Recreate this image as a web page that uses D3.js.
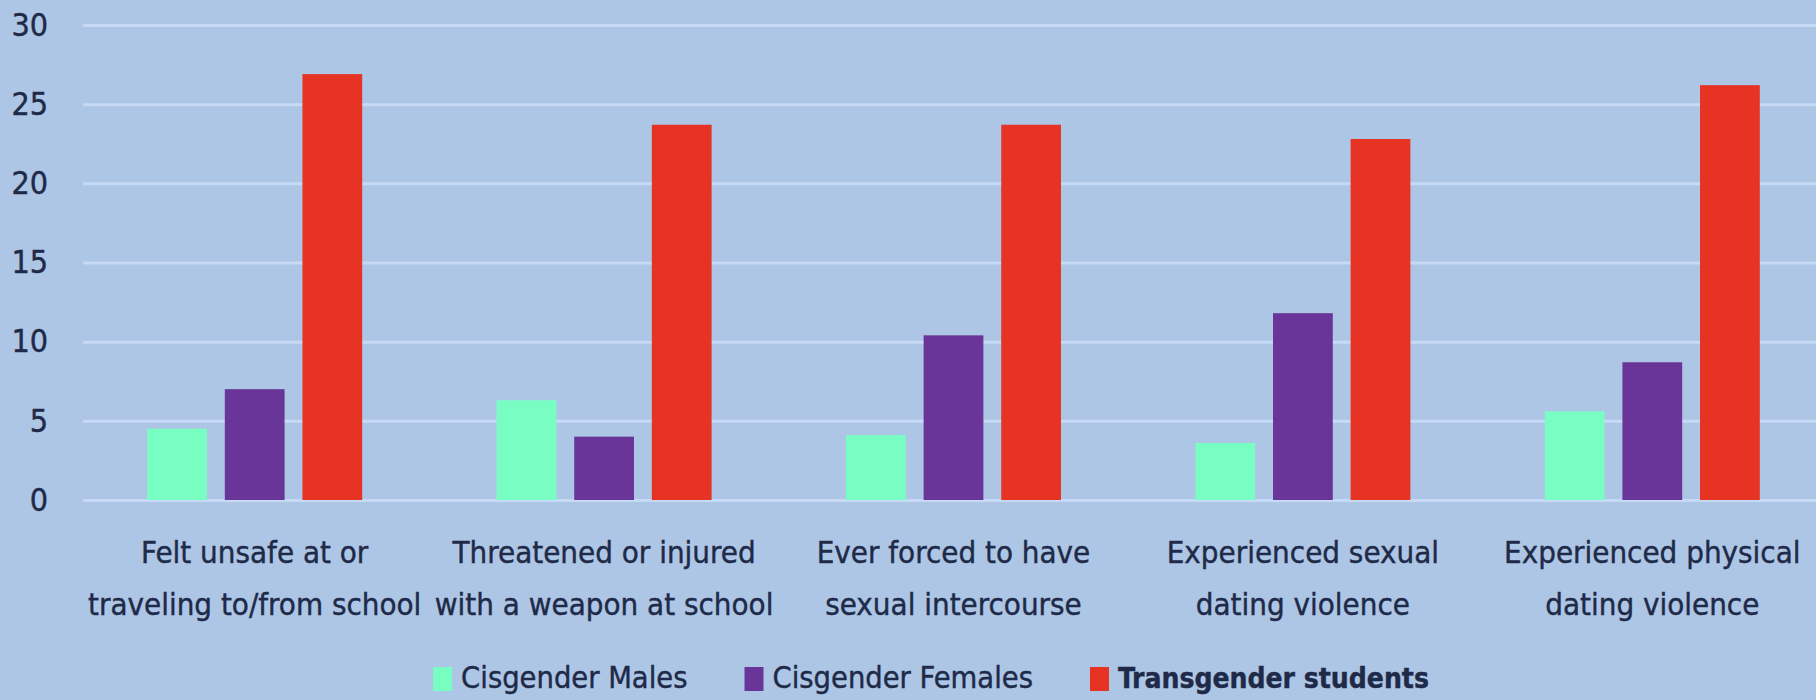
<!DOCTYPE html>
<html>
<head>
<meta charset="utf-8">
<script src="https://cdn.jsdelivr.net/npm/d3@7"></script>
<style>
  html, body { margin: 0; padding: 0; background: #adc6e5; overflow: hidden; }
  svg { display: block; }
  text { font-family: "Liberation Sans Narrow", "DejaVu Sans Condensed", "Liberation Sans", sans-serif; fill: #1e2a48; stroke: #1e2a48; stroke-width: 0.4px; }
</style>
</head>
<body>
<div id="chart"></div>
<script>
// Data
const categories = [
    ["Felt unsafe at or", "traveling to/from school"],
    ["Threatened or injured", "with a weapon at school"],
    ["Ever forced to have", "sexual intercourse"],
    ["Experienced sexual", "dating violence"],
    ["Experienced physical", "dating violence"]
];
const seriesNames = ["Cisgender Males", "Cisgender Females", "Transgender students"];
const cisMales = [4.5, 6.3, 4.1, 3.6, 5.6];
const cisFemales = [7.0, 4.0, 10.4, 11.8, 8.7];
const transStudents = [26.9, 23.7, 23.7, 22.8, 26.2];
const yTicks = [0, 5, 10, 15, 20, 25, 30];
const colors = ["#78fec3", "#6a3598", "#e63323"];

const W = 1816, H = 700;
const svg = d3.select("#chart").append("svg")
    .attr("width", W)
    .attr("height", H);

// Scales
const y = d3.scaleLinear().domain([0, 30]).range([500, 25]);
const x0 = d3.scaleBand()
    .domain(d3.range(categories.length))
    .range([80, 1827])
    .padding(0);
const groupW = 215;
const x1 = d3.scaleBand()
    .domain(d3.range(seriesNames.length))
    .range([(x0.bandwidth() - groupW) / 2, (x0.bandwidth() + groupW) / 2])
    .paddingInner(0.23)
    .paddingOuter(0);

// Gridlines
svg.append("g")
    .attr("transform", "translate(83,0)")
    .call(d3.axisLeft(y).tickValues(yTicks).tickSize(-(W - 83)).tickFormat(""))
    .call(g => g.select(".domain").remove())
    .call(g => g.selectAll("line").attr("stroke", "#c6daf5").attr("stroke-width", 3));

// Y axis labels
svg.append("g")
    .attr("transform", "translate(48,0)")
    .call(d3.axisLeft(y).tickValues(yTicks).tickSize(0).tickPadding(0))
    .call(g => g.select(".domain").remove())
    .call(g => g.selectAll("text")
        .style("font-size", "32px")
        .attr("fill", "#1e2a48"));

// Bars
const series = [cisMales, cisFemales, transStudents];
const groups = svg.append("g").selectAll("g")
    .data(categories)
    .join("g")
    .attr("transform", (d, i) => `translate(${x0(i)},0)`);

groups.selectAll("rect")
    .data((d, i) => series.map((s, k) => ({k, v: s[i]})))
    .join("rect")
    .attr("x", d => x1(d.k))
    .attr("y", d => y(d.v))
    .attr("width", x1.bandwidth())
    .attr("height", d => y(0) - y(d.v))
    .attr("fill", d => colors[d.k]);

// Category labels
groups.append("text")
    .attr("x", x0.bandwidth() / 2)
    .attr("y", 563)
    .attr("text-anchor", "middle")
    .style("font-size", "31px")
    .selectAll("tspan")
    .data(d => d)
    .join("tspan")
    .attr("x", x0.bandwidth() / 2)
    .attr("dy", (d, i) => i === 0 ? 0 : 52)
    .text(d => d);

// Legend
const legend = svg.append("g");
const markerW = 19, markerGap = 9, itemGap = 57;
let lx = 0;
seriesNames.forEach((name, k) => {
    const item = legend.append("g").attr("transform", `translate(${lx},0)`);
    item.append("rect")
        .attr("x", 0)
        .attr("y", -8)
        .attr("width", markerW)
        .attr("height", 24)
        .attr("fill", colors[k]);
    const t = item.append("text")
        .attr("x", markerW + markerGap)
        .attr("y", 13)
        .style("font-size", k === 2 ? "28px" : "30.5px")
        .style("font-weight", k === 2 ? "bold" : "normal")
        .text(name);
    lx += markerW + markerGap + t.node().getComputedTextLength() + itemGap;
});
const legendW = lx - itemGap;
legend.attr("transform", `translate(${931 - legendW / 2},675)`);
</script>
</body>
</html>
